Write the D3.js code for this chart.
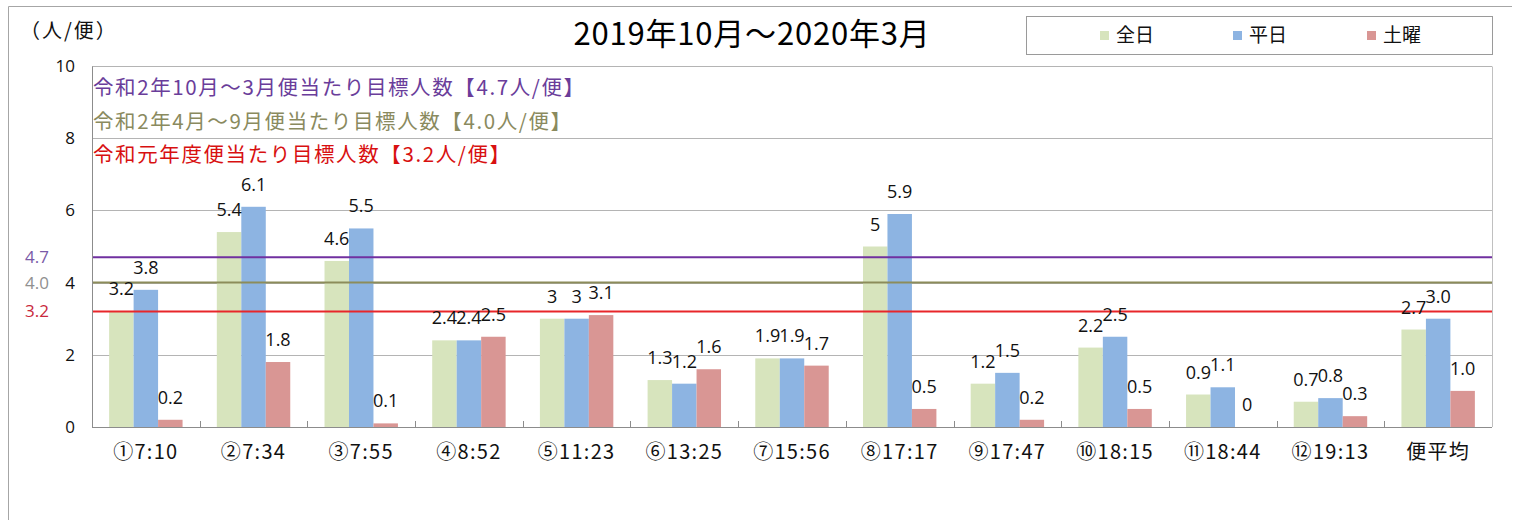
<!DOCTYPE html>
<html><head><meta charset="utf-8">
<script src="https://cdn.jsdelivr.net/npm/d3@7"></script>
<style>
body{margin:0;background:#fff;}
svg{display:block;}
text{font-family:"Noto Sans CJK JP","Noto Sans",sans-serif;}
.num{font-family:"Open Sans","Noto Sans",sans-serif;}
</style></head>
<body>
<svg id="c" width="1518" height="520"></svg>
<script>
const categories = ["①7:10","②7:34","③7:55","④8:52","⑤11:23","⑥13:25","⑦15:56","⑧17:17","⑨17:47","⑩18:15","⑪18:44","⑫19:13","便平均"];
const seriesNames = ["全日","平日","土曜"];
const allDays = [3.2,5.4,4.6,2.4,3,1.3,1.9,5,1.2,2.2,0.9,0.7,2.7];
const weekdays = [3.8,6.1,5.5,2.4,3,1.2,1.9,5.9,1.5,2.5,1.1,0.8,3.0];
const saturdays = [0.2,1.8,0.1,2.5,3.1,1.6,1.7,0.5,0.2,0.5,0,0.3,1.0];
const allDaysLabels = ["3.2","5.4","4.6","2.4","3","1.3","1.9","5","1.2","2.2","0.9","0.7","2.7"];
const weekdaysLabels = ["3.8","6.1","5.5","2.4","3","1.2","1.9","5.9","1.5","2.5","1.1","0.8","3.0"];
const saturdaysLabels = ["0.2","1.8","0.1","2.5","3.1","1.6","1.7","0.5","0.2","0.5","0","0.3","1.0"];
const yTicks = [0,2,4,6,8,10];
const targetValues = [4.7,4.0,3.2];
const targetLabels = ["4.7","4.0","3.2"];
const targetTexts = ["令和2年10月～3月便当たり目標人数【4.7人/便】","令和2年4月～9月便当たり目標人数【4.0人/便】","令和元年度便当たり目標人数【3.2人/便】"];
const titleText = "2019年10月～2020年3月";
const unitText = "（人/便）";

const seriesColors = ["#d7e4bd","#8db4e2","#d99694"];
const lineColors = ["#7030a0","#8c8c5a","#e8262a"];
const textColors = ["#6a3d9a","#8a8a5e","#d81010"];
const leftLabelColors = ["#7a5aa8","#909090","#c8283c"];

const svg = d3.select("#c");
const X0 = 92, X1 = 1492, YB = 427, YT = 66;

// outer frame
svg.append("path").attr("d","M8.5,520 L8.5,6.5 L1512,6.5").attr("fill","none").attr("stroke","#a6a6a6").attr("stroke-width",1);

const x = d3.scaleBand().domain(categories).range([X0,X1]).paddingInner(0).paddingOuter(0);
const xs = d3.scaleBand().domain(seriesNames).range([0,x.bandwidth()]).paddingInner(0).paddingOuter(0.7);
const y = d3.scaleLinear().domain([0,10]).range([YB,YT]);

// gridlines
svg.append("g").selectAll("line").data(yTicks.filter(d=>d>0)).join("line")
  .attr("x1",X0).attr("x2",X1).attr("y1",d=>Math.round(y(d))+0.5).attr("y2",d=>Math.round(y(d))+0.5)
  .attr("stroke","#b4b4b4").attr("stroke-width",1);
// right border
svg.append("line").attr("x1",X1+0.5).attr("x2",X1+0.5).attr("y1",Math.round(y(10))+0.5).attr("y2",YB)
  .attr("stroke","#c0c0c0");

// bars
const data = [allDays,weekdays,saturdays];
const labelData = [allDaysLabels,weekdaysLabels,saturdaysLabels];
const barsG = svg.append("g");
seriesNames.forEach((s,si)=>{
  barsG.append("g").selectAll("rect").data(categories.map((c,i)=>({c,v:data[si][i]}))).join("rect")
    .attr("x",d=>x(d.c)+xs(s)).attr("width",xs.bandwidth())
    .attr("y",d=>y(d.v)).attr("height",d=>YB-y(d.v))
    .attr("fill",seriesColors[si]);
});

// target lines
svg.append("g").selectAll("line").data(targetValues).join("line")
  .attr("x1",X0).attr("x2",X1).attr("y1",d=>y(d)).attr("y2",d=>y(d))
  .attr("stroke",(d,i)=>lineColors[i]).attr("stroke-width",2);

// axes
const yAxis = d3.axisLeft(y).tickValues(yTicks).tickSize(0).tickPadding(17).tickFormat(d3.format("d"));
const ya = svg.append("g").attr("transform",`translate(${X0},0)`).call(yAxis);
ya.select(".domain").attr("stroke","#8c8c8c");
ya.selectAll("text").attr("class","num").attr("font-size",17).attr("fill","#111");

const xAxis = d3.axisBottom(x).tickSize(0).tickPadding(18);
const xa = svg.append("g").attr("transform",`translate(0,${YB})`).call(xAxis);
xa.select(".domain").attr("stroke","#8c8c8c").attr("d",`M${X0},0.5H${X1}`);
xa.selectAll("text").attr("font-size",20).attr("letter-spacing",1.3).attr("fill","#111");
// boundary ticks (pointing up)
svg.append("g").selectAll("line").data(categories.slice(1)).join("line")
  .attr("x1",d=>Math.round(x(d))+0.5).attr("x2",d=>Math.round(x(d))+0.5)
  .attr("y1",YB).attr("y2",YB-6).attr("stroke","#8c8c8c");

// data labels
seriesNames.forEach((s,si)=>{
  svg.append("g").selectAll("text").data(categories.map((c,i)=>({c,v:data[si][i],t:labelData[si][i]}))).join("text")
    .attr("class","num")
    .attr("x",d=>x(d.c)+xs(s)+xs.bandwidth()/2).attr("y",d=>y(d.v)-16)
    .attr("text-anchor","middle").attr("font-size",18).attr("fill","#111")
    .text(d=>d.t);
});

// target annotations
svg.append("g").selectAll("text").data(targetTexts).join("text")
  .attr("x",93).attr("y",(d,i)=>95+i*33.5)
  .attr("font-size",20.5).attr("letter-spacing",1.6).attr("fill",(d,i)=>textColors[i]).text(d=>d);
svg.append("g").selectAll("text").data(targetValues).join("text")
  .attr("class","num")
  .attr("x",37).attr("y",d=>y(d)+6).attr("text-anchor","middle")
  .attr("font-size",17).attr("fill",(d,i)=>leftLabelColors[i]).text((d,i)=>targetLabels[i]);

// title & unit
svg.append("text").attr("x",752).attr("y",45).attr("text-anchor","middle").attr("font-size",31).attr("letter-spacing",0.8).attr("fill","#000").text(titleText);
svg.append("text").attr("x",20).attr("y",38).attr("font-size",20).attr("letter-spacing",2).attr("fill","#111").text(unitText);

// legend
svg.append("rect").attr("x",1026.5).attr("y",16.5).attr("width",466).attr("height",38)
  .attr("fill","#fff").attr("stroke","#9a9a9a");
const legX = [1100,1233,1367];
const lg = svg.append("g").selectAll("g").data(seriesNames).join("g")
  .attr("transform",(d,i)=>`translate(${legX[i]},0)`);
lg.append("rect").attr("x",0).attr("y",31).attr("width",9).attr("height",9).attr("fill",(d,i)=>seriesColors[i]);
lg.append("text").attr("x",16).attr("y",42).attr("font-size",19).attr("fill","#111").text(d=>d);
</script>
</body></html>
